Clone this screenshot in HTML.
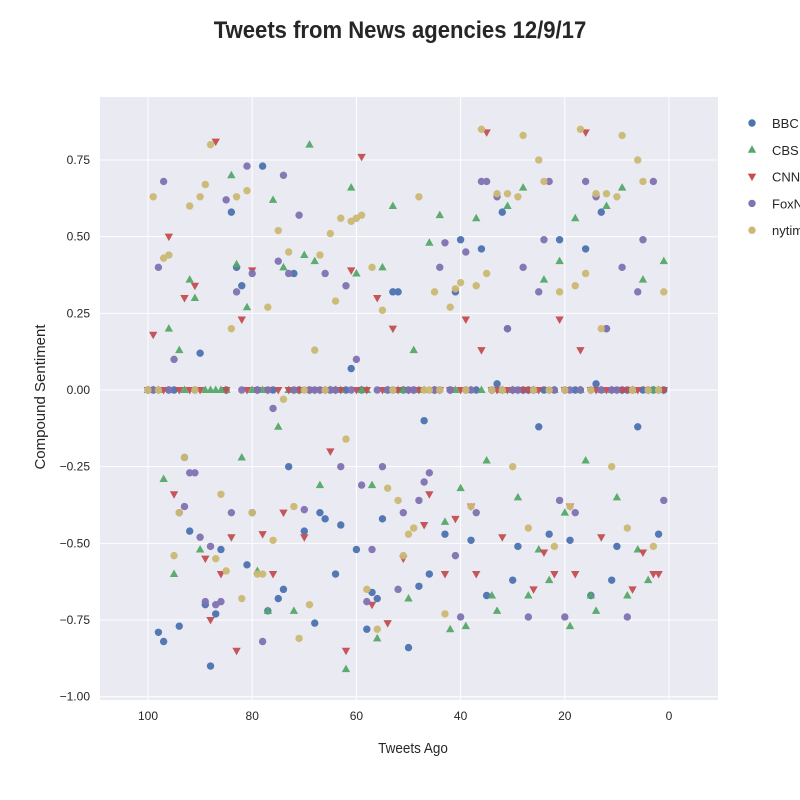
<!DOCTYPE html>
<html><head><meta charset="utf-8"><style>
html,body{margin:0;padding:0;background:#fff;width:800px;height:800px;overflow:hidden}
svg{display:block;font-family:"Liberation Sans",sans-serif}
</style></head><body>
<svg id="chart" width="800" height="800"></svg>
<script>
const outlets = ["BBC","CBS","CNN","FoxNews","nytimes"];
const colors = ["#4C72B0","#55A868","#C44E52","#8172B2","#CCB974"];
const markers = ["circle","up","down","circle","circle"];
const xTicks = [100,80,60,40,20,0];
const yTicks = [0.75,0.5,0.25,0,-0.25,-0.5,-0.75,-1];
const yTickLabels = ["0.75","0.50","0.25","0.00","\u22120.25","\u22120.50","\u22120.75","\u22121.00"];
const bbcX=[98,97,94,93,92,90,89,88,87,86,84,83,82,81,80,78,77,75,74,73,72,70,68,67,66,64,63,61,60,58,57,56,55,53,52,50,48,47,46,43,41,40,38,36,35,33,32,31,30,29,25,23,21,19,16,15,14,13,12,11,10,6,2];
const bbcY=[-0.79,-0.82,-0.77,-0.22,-0.46,0.12,-0.70,-0.90,-0.73,-0.52,0.58,0.40,0.34,-0.57,-0.40,0.73,-0.72,-0.68,-0.65,-0.25,0.38,-0.46,-0.76,-0.40,-0.42,-0.60,-0.44,0.07,-0.52,-0.78,-0.66,-0.68,-0.42,0.32,0.32,-0.84,-0.64,-0.10,-0.60,-0.47,0.32,0.49,-0.49,0.46,-0.67,0.02,0.58,0.20,-0.62,-0.51,-0.12,-0.47,0.49,-0.49,0.46,-0.67,0.02,0.58,0.20,-0.62,-0.51,-0.12,-0.47];
const cbsX=[97,96,95,94,92,91,90,84,83,82,81,79,77,76,75,74,72,70,69,68,67,62,61,60,57,56,55,53,50,49,46,44,43,42,40,39,37,35,34,33,31,29,28,27,25,24,23,21,20,19,18,16,15,14,12,10,9,8,6,5,4,1];
const cbsY=[-0.29,0.20,-0.60,0.13,0.36,0.30,-0.52,0.70,0.41,-0.22,0.27,-0.59,-0.72,0.62,-0.12,0.40,-0.72,0.44,0.80,0.42,-0.31,-0.91,0.66,0.38,-0.31,-0.81,0.40,0.60,-0.68,0.13,0.48,0.57,-0.43,-0.78,-0.32,-0.77,0.56,-0.23,-0.67,-0.72,0.60,-0.35,0.66,-0.67,-0.52,0.36,-0.62,0.42,-0.40,-0.77,0.56,-0.23,-0.67,-0.72,0.60,-0.35,0.66,-0.67,-0.52,0.36,-0.62,0.42];
const cnnX=[99,96,95,93,91,89,88,87,86,84,83,82,80,78,76,74,70,65,62,61,59,57,56,54,53,51,47,46,43,41,39,38,37,36,35,32,26,24,22,21,19,18,17,16,13,7,5,3,2];
const cnnY=[0.18,0.50,-0.34,0.30,0.34,-0.55,-0.75,0.81,-0.60,-0.48,-0.85,0.23,0.39,-0.47,-0.60,-0.40,-0.48,-0.20,-0.85,0.39,0.76,-0.70,0.30,-0.76,0.20,-0.55,-0.44,-0.34,-0.60,-0.42,0.23,-0.38,-0.60,0.13,0.84,-0.48,-0.65,-0.53,-0.60,0.23,-0.38,-0.60,0.13,0.84,-0.48,-0.65,-0.53,-0.60,-0.60];
const foxX=[98,97,95,94,93,92,91,90,89,88,87,86,85,84,83,81,80,78,76,75,74,73,71,70,66,63,62,60,59,58,57,55,52,51,48,47,46,44,43,41,40,39,37,36,35,33,31,28,27,25,24,23,21,20,18,16,14,12,9,8,6,5,3,1];
const foxY=[0.40,0.68,0.10,-0.40,-0.38,-0.27,-0.27,-0.48,-0.69,-0.51,-0.70,-0.69,0.62,-0.40,0.32,0.73,0.38,-0.82,-0.06,0.42,0.70,0.38,0.57,-0.39,0.38,-0.25,0.34,0.10,-0.31,-0.69,-0.52,-0.25,-0.65,-0.40,-0.36,-0.30,-0.27,0.40,0.48,-0.54,-0.74,0.45,-0.40,0.68,0.68,0.63,0.20,0.40,-0.74,0.32,0.49,0.68,-0.36,-0.74,-0.40,0.68,0.63,0.20,0.40,-0.74,0.32,0.49,0.68,-0.36];
const nytX=[99,97,96,95,94,93,92,90,89,88,87,86,85,84,83,82,81,80,79,78,77,76,75,74,73,72,71,69,68,67,65,64,63,62,61,60,59,58,57,56,55,54,52,51,50,49,48,45,43,42,41,40,38,37,36,35,33,31,30,29,28,27,25,24,22,21,19,18,17,16,14,13,12,11,10,9,8,6,5,3,1];
const nytY=[0.63,0.43,0.44,-0.54,-0.40,-0.22,0.60,0.63,0.67,0.80,-0.55,-0.34,-0.59,0.20,0.63,-0.68,0.65,-0.40,-0.60,-0.60,0.27,-0.49,0.52,-0.03,0.45,-0.38,-0.81,-0.70,0.13,0.44,0.51,0.29,0.56,-0.16,0.55,0.56,0.57,-0.65,0.40,-0.78,0.26,-0.32,-0.36,-0.54,-0.47,-0.45,0.63,0.32,-0.73,0.27,0.33,0.35,-0.38,0.34,0.85,0.38,0.64,0.64,-0.25,0.63,0.83,-0.45,0.75,0.68,-0.51,0.32,-0.38,0.34,0.85,0.38,0.64,0.20,0.64,-0.25,0.63,0.83,-0.45,0.75,0.68,-0.51,0.32];
const seriesX=[bbcX,cbsX,cnnX,foxX,nytX];
const seriesY=[bbcY,cbsY,cnnY,foxY,nytY];

const NS="http://www.w3.org/2000/svg";
const svg=document.getElementById("chart");
const PL=100,PR=718,PT=97,PB=700;
const xs=v=>669+(0-v)*5.21;
const ys=v=>390-v*306.7;
function mk(tag,attrs,parent){const e=document.createElementNS(NS,tag);for(const k in attrs)e.setAttribute(k,attrs[k]);(parent||svg).appendChild(e);return e;}

const bg=mk("rect",{x:PL,y:PT,width:PR-PL,height:PB-PT,fill:"#EAEAF2"});


xTicks.forEach(t=>{
  const l=mk("line",{x1:xs(t),x2:xs(t),y1:PT,y2:PB,stroke:"#fff","stroke-width":1});
  
  
  const tx=mk("text",{x:xs(t),y:PB+20,"text-anchor":"middle","font-size":12,fill:"#262626"});
  tx.textContent=t;
  
  
});
yTicks.forEach((t,i)=>{
  const l=mk("line",{x1:PL,x2:PR,y1:ys(t),y2:ys(t),stroke:"#fff","stroke-width":1});
  
  
  const tx=mk("text",{x:PL-10,y:ys(t)+4,"text-anchor":"end","font-size":12,fill:"#262626"});
  tx.textContent=yTickLabels[i];
  
  
});
function marker(kind,cx,cy,color,parent){
  let e;
  if(kind==="circle") e=mk("circle",{cx:cx,cy:cy,r:3.7,fill:color},parent);
  else if(kind==="up") e=mk("polygon",{points:`${cx},${cy-4.5} ${cx-4.2},${cy+3} ${cx+4.2},${cy+3}`,fill:color},parent);
  else e=mk("polygon",{points:`${cx},${cy+4.5} ${cx-4.2},${cy-3} ${cx+4.2},${cy-3}`,fill:color},parent);
  return e;
}
seriesX.forEach((xarr,si)=>{
  const g=mk("g",{opacity:0.95});
  
  
  for(let t=1;t<=100;t++){
    const idx=xarr.indexOf(t);
    const v=idx>=0?seriesY[si][idx]:0;
    const m=marker(markers[si],xs(t),ys(v),colors[si],g);
    
    
  }
});
outlets.forEach((o,i)=>{
  const y=123+i*26.8;
  const m=marker(markers[i],752,y,colors[i]);
  
  
  const t=mk("text",{x:772,y:y+5,"font-size":13,fill:"#262626"});
  t.textContent=o;
  
  
});
const title=mk("text",{x:0,y:0,"text-anchor":"middle","font-size":24,"font-weight":"bold",fill:"#262626",transform:"translate(400,38) scale(0.92,1)"});
title.textContent="Tweets from News agencies 12/9/17";


const xl=mk("text",{x:0,y:0,"text-anchor":"middle","font-size":15,fill:"#262626",transform:"translate(413,753) scale(0.9,1)"});
xl.textContent="Tweets Ago";


const yl=mk("text",{x:0,y:0,"text-anchor":"middle","font-size":15,fill:"#262626",transform:"translate(45,397) rotate(-90)"});
yl.textContent="Compound Sentiment";


</script>
</body></html>
